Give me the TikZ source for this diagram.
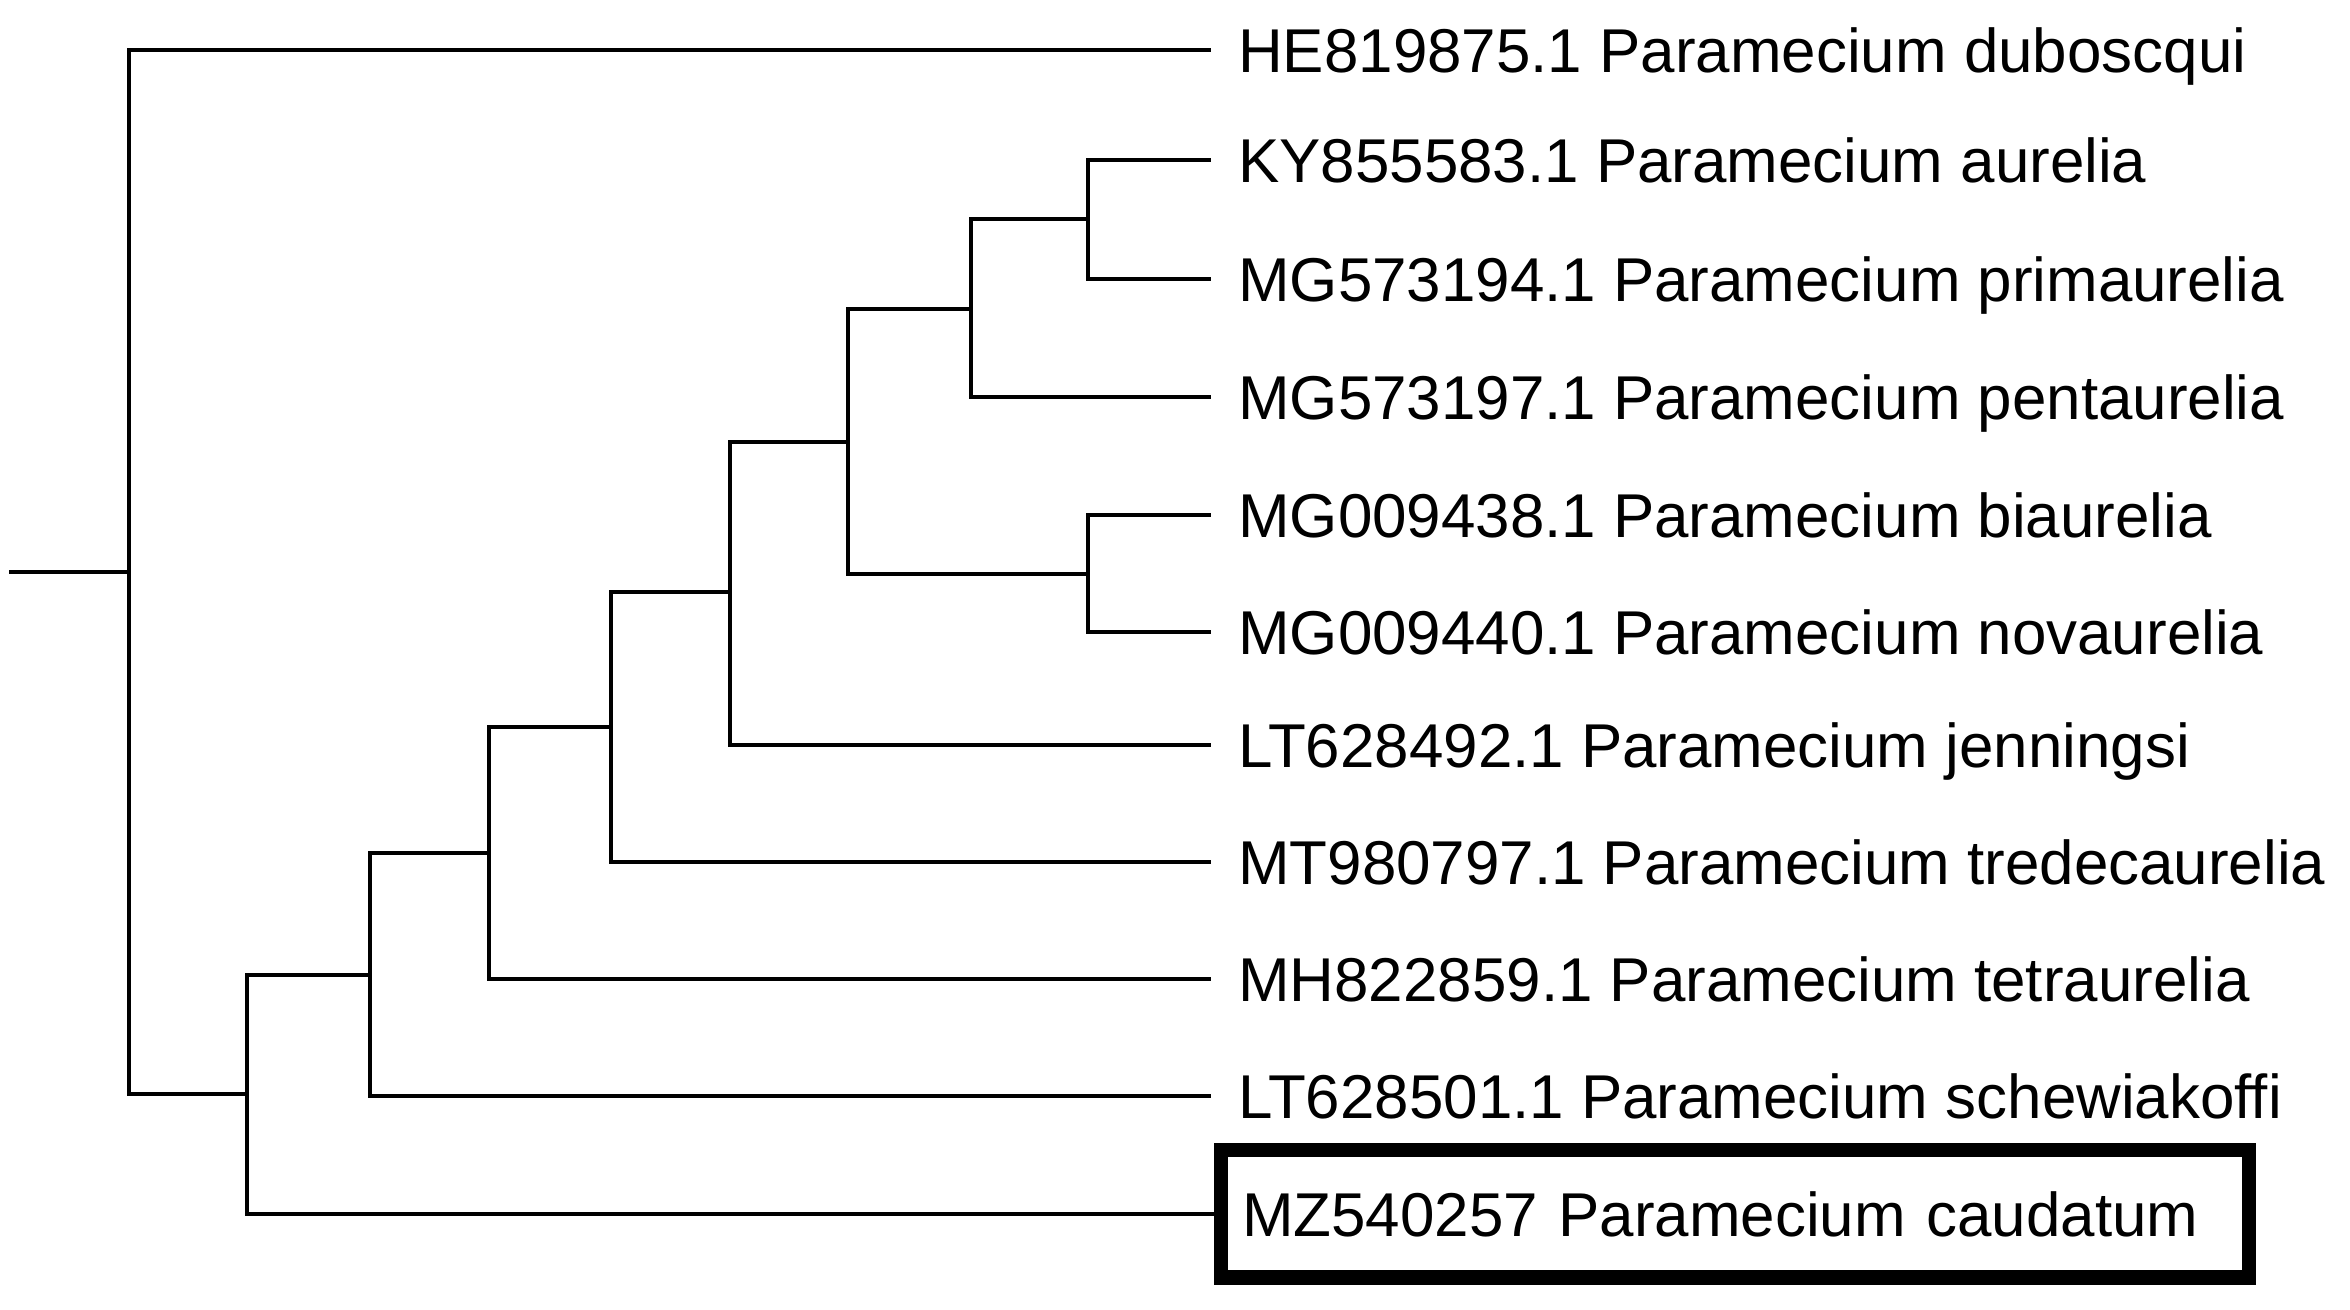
\documentclass[tikz,border=0pt]{standalone}
\usepackage{fontspec}
\setmainfont{Liberation Sans}[Ligatures=NoCommon]
\usetikzlibrary{positioning}

\begin{document}
\begin{tikzpicture}[
  x=0.01cm, y=-0.01cm,
  font=\fontsize{17.6}{20}\selectfont,
  line width=1.3pt,
  taxon/.style={anchor=west, inner xsep=0.25cm, inner ysep=0pt, text height=0.44cm, text depth=0pt},
  query/.style={anchor=west, draw, line width=4pt, outer sep=0pt, inner xsep=0.21cm, inner ysep=0pt, minimum height=1.27cm, text width=9.85cm, align=left, text height=0.44cm, text depth=0pt}]

\useasboundingbox (0,0) rectangle (2350,1310);

\foreach \i/\y/\lab in {1/50/HE819875.1 Paramecium duboscqui,
                        2/160/KY855583.1 Paramecium aurelia,
                        3/279/MG573194.1 Paramecium primaurelia,
                        4/397/MG573197.1 Paramecium pentaurelia,
                        5/515/MG009438.1 Paramecium biaurelia,
                        6/632/MG009440.1 Paramecium novaurelia,
                        7/745/LT628492.1 Paramecium jenningsi,
                        8/862/MT980797.1 Paramecium tredecaurelia,
                        9/979/MH822859.1 Paramecium tetraurelia,
                        10/1096/LT628501.1 Paramecium schewiakoffi} {
  \node[taxon] (t\i) at (1211,\y) {\lab};
}
\node[query] (t11) at (1221,1214) {MZ540257 Paramecium caudatum};

\coordinate (r) at (9,572);
\coordinate (n0) at (129,572);
\coordinate (n1) at (247,1094);
\coordinate (n2) at (370,975);
\coordinate (n3) at (489,853);
\coordinate (n4) at (611,727);
\coordinate (n5) at (730,592);
\coordinate (n6) at (848,442);
\coordinate (n7) at (971,309);
\coordinate (n8) at (1088,219);
\coordinate (n9) at (1088,574);

\draw (r) -- (n0);
\draw (n0) |- (t1.west);
\draw (n0) |- (n1);
\draw (n1) |- (n2);
\draw (n1) |- (t11.west);
\draw (n2) |- (n3);
\draw (n2) |- (t10.west);
\draw (n3) |- (n4);
\draw (n3) |- (t9.west);
\draw (n4) |- (n5);
\draw (n4) |- (t8.west);
\draw (n5) |- (n6);
\draw (n5) |- (t7.west);
\draw (n6) |- (n7);
\draw (n6) |- (n9);
\draw (n7) |- (n8);
\draw (n7) |- (t4.west);
\draw (n8) |- (t2.west);
\draw (n8) |- (t3.west);
\draw (n9) |- (t5.west);
\draw (n9) |- (t6.west);

\end{tikzpicture}
\end{document}
